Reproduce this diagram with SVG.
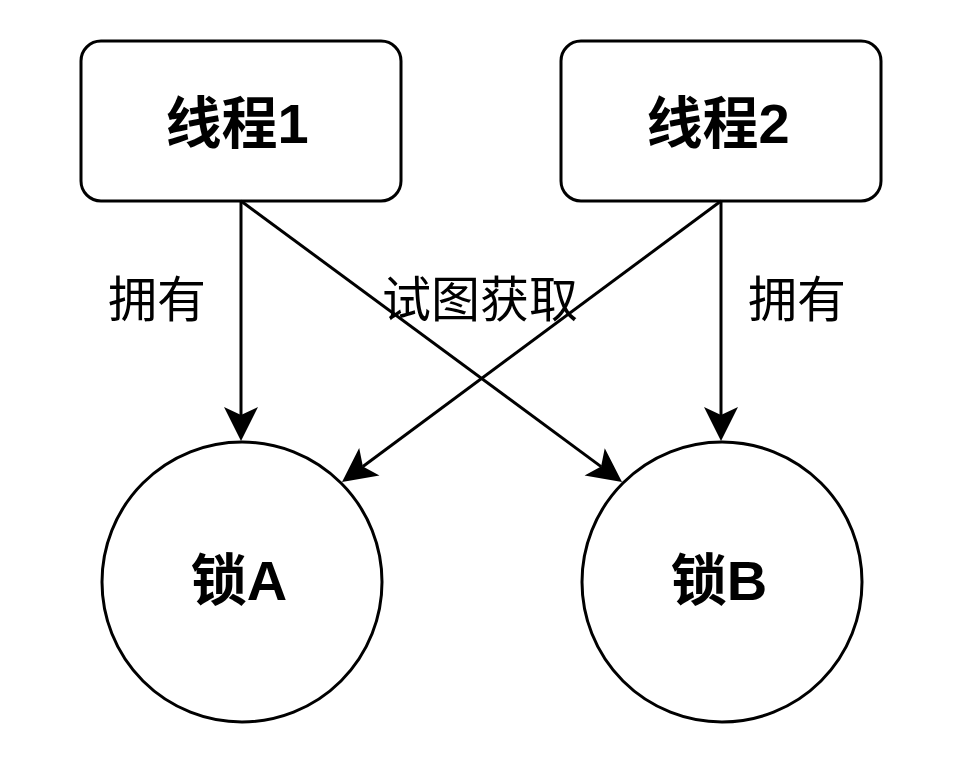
<svg xmlns="http://www.w3.org/2000/svg" width="960" height="764" viewBox="0 0 960 764">
<style>
.box{fill:#fff;stroke:#000;stroke-width:3}
.t{font-family:"Liberation Sans","Noto Sans CJK SC",sans-serif;text-anchor:middle;fill:#000}
.b{font-weight:bold;font-size:56px}
.l{font-size:49px}
.c{fill:none;stroke:#000;stroke-width:3}
</style>
<defs>
<marker id="ah" markerUnits="userSpaceOnUse" markerWidth="40" markerHeight="40" viewBox="-2 -20 40 40" refX="8" refY="0" orient="auto">
<path d="M34,0 L0,-17 L8,0 L0,17 Z" fill="#000"/>
</marker>
</defs>
<rect width="960" height="764" fill="#fff"/>
<g id="thread1"><rect class="box" x="81" y="41" width="320" height="160" rx="20"/><text class="t b" x="237" y="143">线程1</text></g>
<g id="thread2"><rect class="box" x="561" y="41" width="320" height="160" rx="20"/><text class="t b" x="718" y="143">线程2</text></g>
<g id="lockA"><circle class="box" cx="242" cy="582" r="140"/><text class="t b" x="239" y="600">锁A</text></g>
<g id="lockB"><circle class="box" cx="722" cy="582" r="140"/><text class="t b" x="719" y="600">锁B</text></g>
<g id="connectors">
<path class="c" d="M241,201 L241,415" marker-end="url(#ah)"/>
<path class="c" d="M241,201 L601.1,466.6" marker-end="url(#ah)"/>
<path class="c" d="M721,201 L362.9,466.5" marker-end="url(#ah)"/>
<path class="c" d="M721,201 L721,415" marker-end="url(#ah)"/>
</g>
<g id="labels">
<text class="t l" x="157" y="317">拥有</text>
<text class="t l" x="480" y="317">试图获取</text>
<text class="t l" x="797" y="317">拥有</text>
</g>
</svg>
